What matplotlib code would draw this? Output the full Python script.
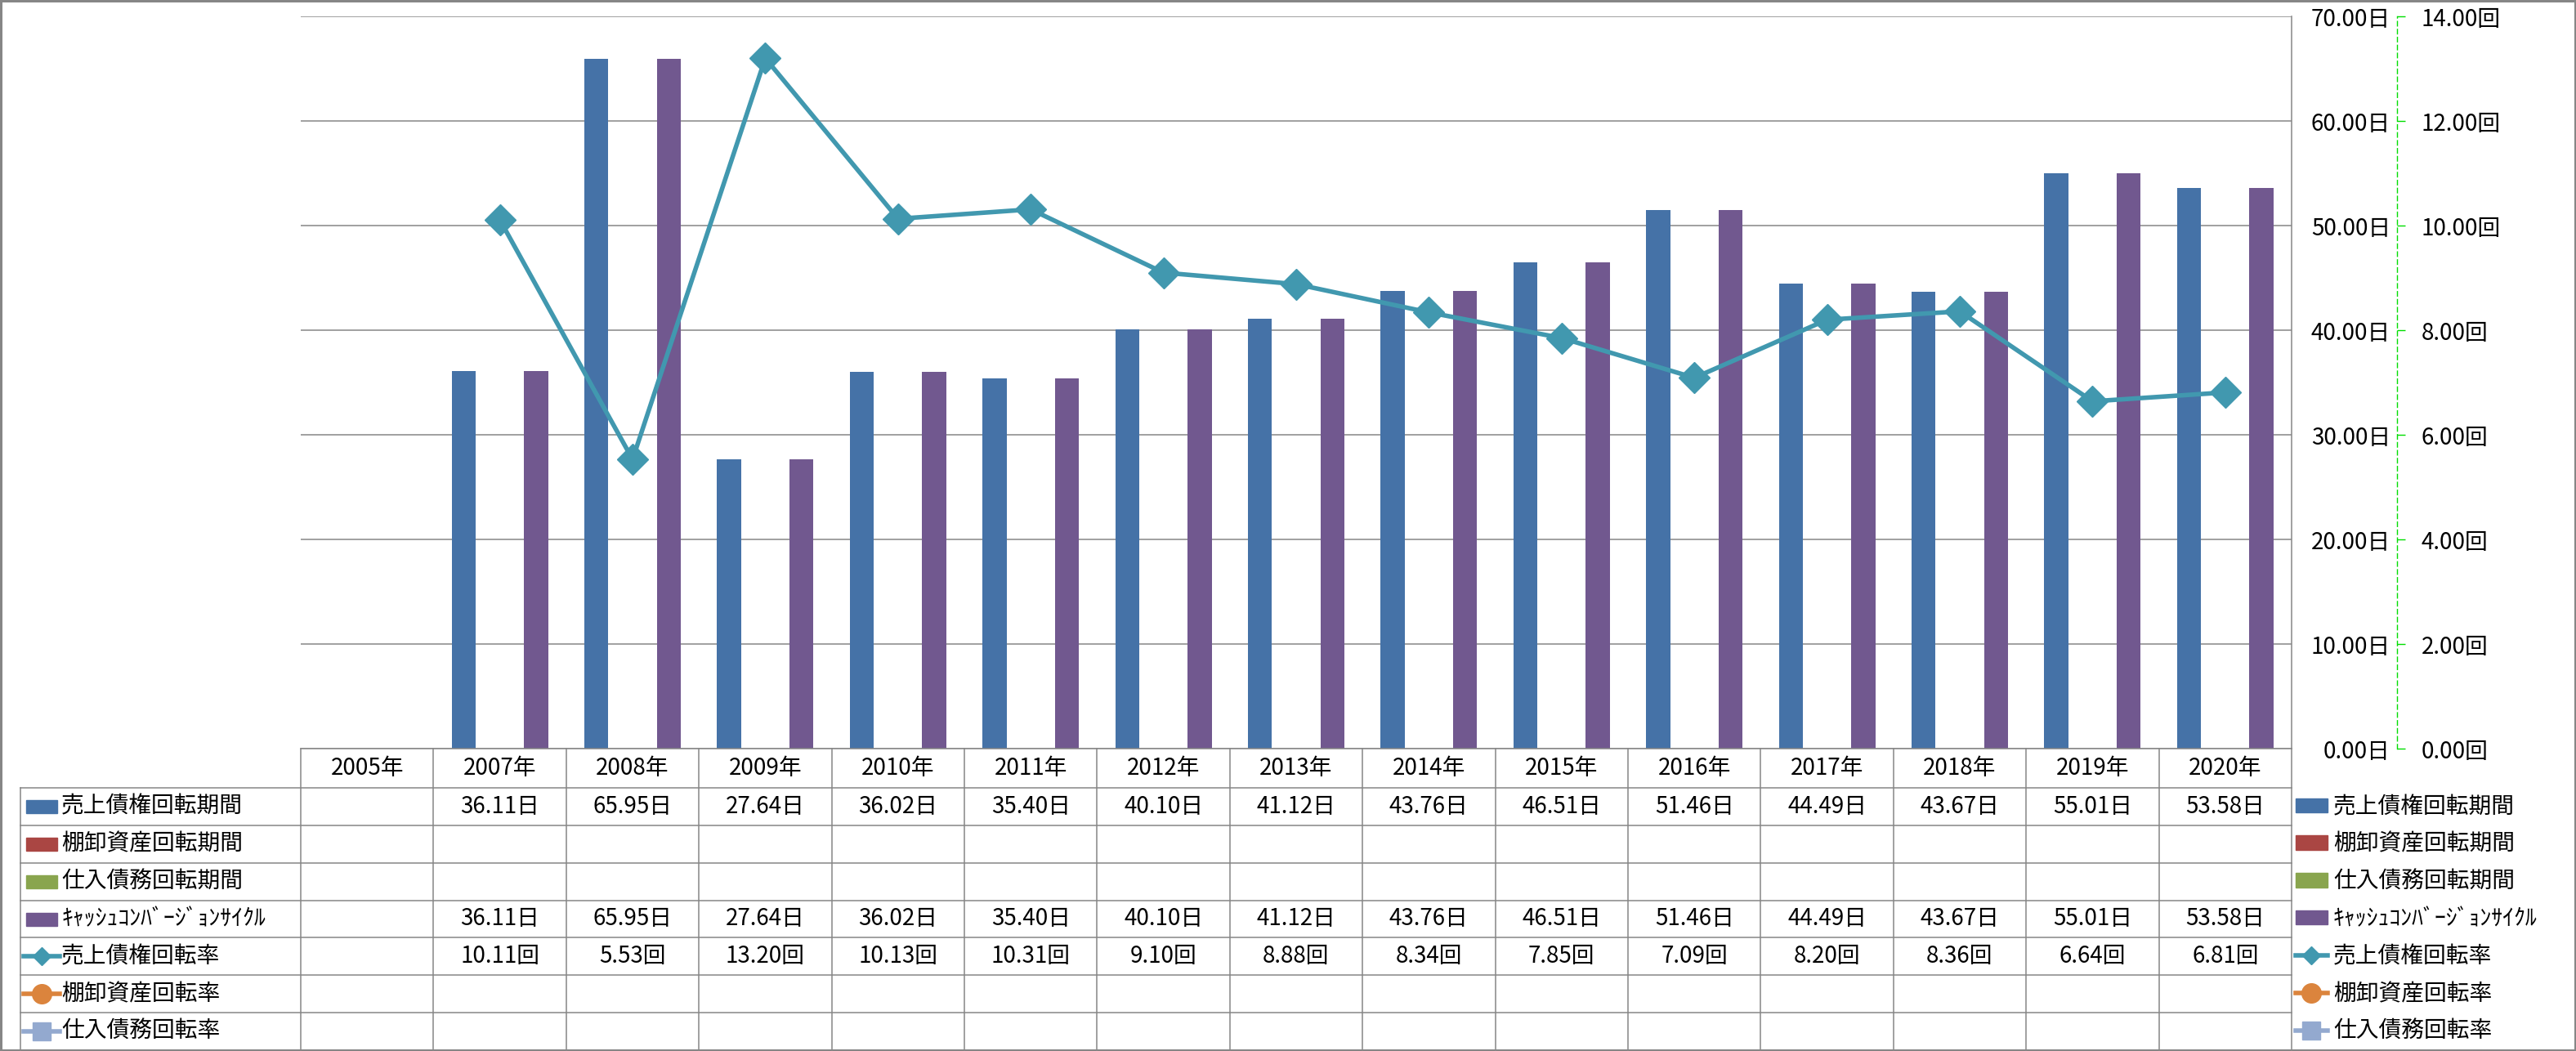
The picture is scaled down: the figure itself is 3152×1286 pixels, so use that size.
import matplotlib
matplotlib.use('Agg')
import matplotlib.pyplot as plt
from matplotlib.patches import Rectangle, Patch
from matplotlib.lines import Line2D
from matplotlib.transforms import blended_transform_factory
import numpy as np

plt.rcParams['font.family'] = ['Noto Sans CJK JP', 'DejaVu Sans']

# ---------------- data ----------------
years = ['2005年', '2007年', '2008年', '2009年', '2010年', '2011年', '2012年', '2013年',
         '2014年', '2015年', '2016年', '2017年', '2018年', '2019年', '2020年']
nan = np.nan
ar_days = [nan, 36.11, 65.95, 27.64, 36.02, 35.40, 40.10, 41.12, 43.76, 46.51, 51.46, 44.49, 43.67, 55.01, 53.58]
inv_days = [nan] * 15
ap_days = [nan] * 15
ccc_days = [nan, 36.11, 65.95, 27.64, 36.02, 35.40, 40.10, 41.12, 43.76, 46.51, 51.46, 44.49, 43.67, 55.01, 53.58]
ar_turn = [nan, 10.11, 5.53, 13.20, 10.13, 10.31, 9.10, 8.88, 8.34, 7.85, 7.09, 8.20, 8.36, 6.64, 6.81]
inv_turn = [nan] * 15
ap_turn = [nan] * 15

series_names = ['売上債権回転期間', '棚卸資産回転期間', '仕入債務回転期間', 'ｷｬｯｼｭｺﾝﾊﾞｰｼﾞｮﾝｻｲｸﾙ',
                '売上債権回転率', '棚卸資産回転率', '仕入債務回転率']
day_ticks = [0, 10, 20, 30, 40, 50, 60, 70]
turn_ticks = [0, 2, 4, 6, 8, 10, 12, 14]

colors = ['#4572A7', '#AA4643', '#89A54E', '#71588F', '#4198AF', '#DB843D', '#93A9CF']
GRID = '#868686'
FS = 20

W, H, DPI = 3152, 1286, 100
fig = plt.figure(figsize=(W / DPI, H / DPI), dpi=DPI)
fig.patch.set_facecolor('white')


def fx(px):
    return px / W


def fy(py):
    return 1 - py / H


L, R, T, B = 368, 2804, 20, 916
ax = fig.add_axes([fx(L), fy(B), fx(R) - fx(L), fy(T) - fy(B)])
x = np.arange(len(years))
bw = 1 / 5.5
bar_series = [ar_days, inv_days, ap_days, ccc_days]
for k, vals in enumerate(bar_series):
    ax.bar(x + (k - 1.5) * bw, vals, bw, color=colors[k], zorder=2)

ax.set_xlim(-0.5, len(years) - 0.5)
ax.set_ylim(0, 70)
ax.set_xticks([])
ax.yaxis.grid(True, color=GRID, lw=1.1)
ax.set_axisbelow(True)
for s in ['left', 'top']:
    ax.spines[s].set_visible(False)
for s in ['right', 'bottom']:
    ax.spines[s].set_color(GRID)
    ax.spines[s].set_linewidth(1.1)

ax2 = ax.twinx()
ax2.set_ylim(0, 14)
ax2.set_yticks(turn_ticks)
ax2.set_yticklabels([f'{v:.2f}回' for v in turn_ticks])
for s in ['left', 'top', 'bottom']:
    ax2.spines[s].set_visible(False)
ax2.spines['right'].set_position(('outward', 129 * 72 / DPI))
ax2.spines['right'].set_color('#00DD00')
ax2.spines['right'].set_linestyle((0, (4, 3)))
ax2.spines['right'].set_linewidth(1.0)
ax2.tick_params(axis='y', direction='out', length=7.2, width=1.0, color='#00DD00',
                pad=14.4, labelsize=FS)

# primary (day) axis labels on the right, right-aligned left of the secondary axis
ax.yaxis.tick_right()
ax.set_yticks(day_ticks)
ax.set_yticklabels([f'{v:.2f}日' for v in day_ticks], ha='right')
ax.tick_params(axis='y', which='both', left=False, labelleft=False, right=False,
               labelright=True, length=0, pad=121 * 72 / DPI, labelsize=FS)

ax2.plot(x, ar_turn, color=colors[4], lw=4, marker='D', ms=19, zorder=3)
ax2.plot(x, inv_turn, color=colors[5], lw=4, marker='o', ms=17, zorder=3)
ax2.plot(x, ap_turn, color=colors[6], lw=4, marker='s', ms=16, zorder=3)

# ---------------- data table ----------------
bt = blended_transform_factory(ax.transData, fig.transFigure)
row_edges = [916, 964] + [964 + (1285 - 964) * i / 7 for i in range(1, 8)]
line_kw = dict(color=GRID, lw=1.1)

for i in range(len(years) + 1):
    fig.add_artist(Line2D([i - 0.5, i - 0.5], [fy(916), fy(1285)], transform=bt, **line_kw))
fig.add_artist(Line2D([fx(25), fx(25)], [fy(964), fy(1285)], transform=fig.transFigure, **line_kw))
for py in row_edges[1:]:
    fig.add_artist(Line2D([fx(25), fx(R)], [fy(py), fy(py)], transform=fig.transFigure, **line_kw))

for i, yl in enumerate(years):
    fig.add_artist(plt.Text(i, fy(940), yl, transform=bt, ha='center', va='center', fontsize=FS))

table_rows = [(ar_days, '日'), (inv_days, '日'), (ap_days, '日'), (ccc_days, '日'),
              (ar_turn, '回'), (inv_turn, '回'), (ap_turn, '回')]
markers = [None, None, None, None, 'D', 'o', 's']
for r, (vals, unit) in enumerate(table_rows):
    yc = (row_edges[r + 1] + row_edges[r + 2]) / 2
    for i, v in enumerate(vals):
        if not np.isnan(v):
            fig.add_artist(plt.Text(i, fy(yc), f'{v:.2f}{unit}', transform=bt,
                                    ha='center', va='center', fontsize=FS))
    if markers[r] is None:
        fig.add_artist(Rectangle((fx(32), fy(yc + 8)), fx(70) - fx(32), 16 / H,
                                 transform=fig.transFigure, color=colors[r]))
    else:
        fig.add_artist(Line2D([fx(29), fx(73)], [fy(yc), fy(yc)], transform=fig.transFigure,
                              color=colors[r], lw=4))
        msz = {'D': 11.7, 'o': 17, 's': 16.5}[markers[r]]
        fig.add_artist(Line2D([fx(51)], [fy(yc)], transform=fig.transFigure, marker=markers[r],
                              ms=msz, color=colors[r], lw=0))
    fig.text(fx(75), fy(yc), series_names[r], ha='left', va='center', fontsize=FS)

# ---------------- legend ----------------
handles = [Patch(color=colors[k]) for k in range(4)]
handles += [Line2D([], [], color=colors[4], lw=4, marker='D', ms=11.7),
            Line2D([], [], color=colors[5], lw=4, marker='o', ms=17),
            Line2D([], [], color=colors[6], lw=4, marker='s', ms=16.5)]
leg = ax.legend(handles, series_names, loc='upper left', bbox_to_anchor=(fx(2809), fy(972)),
                bbox_transform=fig.transFigure, frameon=False, fontsize=FS,
                borderpad=0, borderaxespad=0, handlelength=1.4, handleheight=0.58,
                handletextpad=0.25, labelspacing=0.57)

fig.add_artist(Rectangle((0, 0), 1, 1, transform=fig.transFigure, fill=False, ec=GRID, lw=3.6))

fig.savefig('out.png', dpi=DPI)
